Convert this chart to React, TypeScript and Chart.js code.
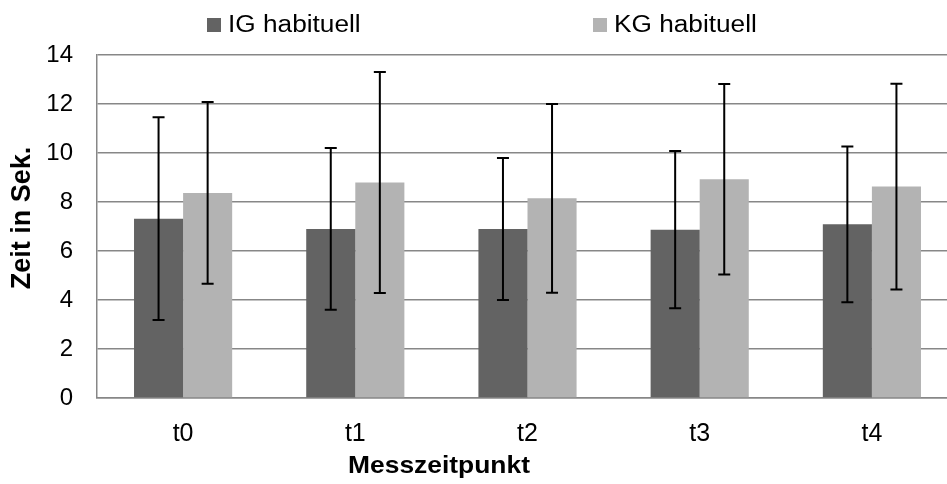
import React, { useEffect, useRef } from "react";
import { Chart, registerables } from "chart.js";

Chart.register(...registerables);

const categories = ["t0", "t1", "t2", "t3", "t4"];
const seriesNames = ["IG habituell", "KG habituell"];
const igMeans = [7.32, 6.9, 6.9, 6.87, 7.09];
const igSd = [4.14, 3.3, 2.9, 3.21, 3.18];
const kgMeans = [8.37, 8.8, 8.15, 8.93, 8.63];
const kgSd = [3.71, 4.51, 3.85, 3.89, 4.2];
const yTicks = [0, 2, 4, 6, 8, 10, 12, 14];
const yTitle = "Zeit in Sek.";
const xTitle = "Messzeitpunkt";

const FONT = "'Liberation Sans', Arial, sans-serif";
const DARK = "#636363";
const LIGHT = "#b3b3b3";
const GRID = "#878787";

const errorBarPlugin = {
  id: "errorBars",
  afterDatasetsDraw(chart: any) {
    const ctx = chart.ctx;
    const yScale = chart.scales.y;
    chart.data.datasets.forEach((ds: any, i: number) => {
      const meta = chart.getDatasetMeta(i);
      const sds: number[] = ds.sd || [];
      meta.data.forEach((bar: any, j: number) => {
        const m = ds.data[j];
        const s = sds[j];
        if (s == null) return;
        const x = bar.x;
        const yT = yScale.getPixelForValue(m + s);
        const yB = yScale.getPixelForValue(m - s);
        ctx.save();
        ctx.strokeStyle = "#000";
        ctx.lineWidth = 2;
        ctx.beginPath();
        ctx.moveTo(x, yT);
        ctx.lineTo(x, yB);
        ctx.moveTo(x - 6, yT);
        ctx.lineTo(x + 6, yT);
        ctx.moveTo(x - 6, yB);
        ctx.lineTo(x + 6, yB);
        ctx.stroke();
        ctx.restore();
      });
    });
  },
};

const legendPositions = [207, 593];

const textPlugin = {
  id: "customTexts",
  afterDraw(chart: any) {
    const ctx = chart.ctx;
    // legend
    chart.data.datasets.forEach((ds: any, i: number) => {
      const x = legendPositions[i];
      ctx.save();
      ctx.fillStyle = ds.backgroundColor;
      ctx.fillRect(x, 18, 14, 14);
      ctx.fillStyle = "#000";
      ctx.font = `23px ${FONT}`;
      ctx.textBaseline = "alphabetic";
      ctx.textAlign = "left";
      ctx.translate(x + 21, 32);
      ctx.scale(1.14, 1);
      ctx.fillText(ds.label, 0, 0);
      ctx.restore();
    });
    // x axis title
    ctx.save();
    ctx.fillStyle = "#000";
    ctx.font = `bold 24px ${FONT}`;
    ctx.textBaseline = "middle";
    ctx.textAlign = "center";
    ctx.translate(439, 466);
    ctx.scale(1.1, 1);
    ctx.fillText(xTitle, 0, 0);
    ctx.restore();
    // y axis title
    ctx.save();
    ctx.fillStyle = "#000";
    ctx.font = `bold 27px ${FONT}`;
    ctx.textBaseline = "middle";
    ctx.textAlign = "center";
    ctx.translate(23, 218);
    ctx.rotate(-Math.PI / 2);
    ctx.fillText(yTitle, 0, 0);
    ctx.restore();
  },
};

export default function App() {
  const canvasRef = useRef<HTMLCanvasElement | null>(null);

  useEffect(() => {
    if (!canvasRef.current) return;
    const chart = new Chart(canvasRef.current, {
      type: "bar",
      data: {
        labels: categories,
        datasets: [
          {
            label: seriesNames[0],
            data: igMeans,
            sd: igSd,
            backgroundColor: DARK,
            categoryPercentage: 0.57,
            barPercentage: 1.0,
          } as any,
          {
            label: seriesNames[1],
            data: kgMeans,
            sd: kgSd,
            backgroundColor: LIGHT,
            categoryPercentage: 0.57,
            barPercentage: 1.0,
          } as any,
        ],
      },
      options: {
        animation: false,
        responsive: false,
        devicePixelRatio: 1,
        layout: { padding: { top: 55, left: 0, right: 2, bottom: 0 } },
        plugins: {
          legend: { display: false },
          tooltip: { enabled: false },
        },
        scales: {
          x: {
            grid: { display: false, drawTicks: false },
            border: { display: true, color: GRID, width: 1.5 },
            ticks: {
              color: "#000",
              font: { family: FONT, size: 25 },
              padding: 21,
            },
            title: { display: false, text: xTitle },
            afterFit(scale: any) {
              scale.height = 86;
            },
          },
          y: {
            min: 0,
            max: 14,
            afterBuildTicks(scale: any) {
              scale.ticks = yTicks.map((v) => ({ value: v }));
            },
            grid: { color: GRID, lineWidth: 1.5, drawTicks: false },
            border: { display: true, color: GRID, width: 1.5 },
            ticks: {
              color: "#000",
              font: { family: FONT, size: 24 },
              padding: 24,
            },
            title: { display: false, text: yTitle },
            afterFit(scale: any) {
              scale.width = 97;
            },
          },
        },
      },
      plugins: [errorBarPlugin, textPlugin],
    });
    return () => chart.destroy();
  }, []);

  return (
    <div
      style={{
        position: "fixed",
        left: 0,
        top: 0,
        width: 947,
        height: 484,
        overflow: "hidden",
        background: "#fff",
      }}
    >
      <canvas
        ref={canvasRef}
        width={960}
        height={484}
        style={{ display: "block", width: 960, height: 484 }}
      />
    </div>
  );
}
